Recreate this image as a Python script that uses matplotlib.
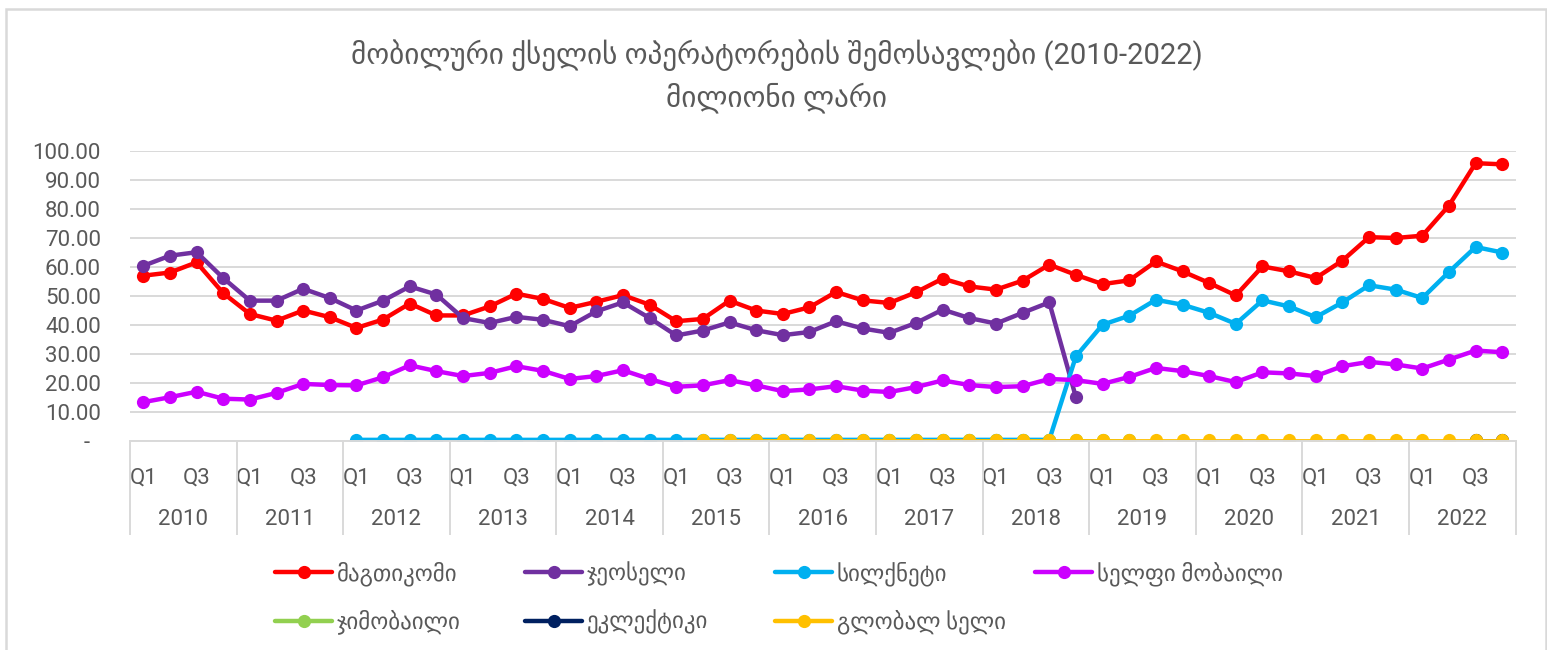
import numpy as np
import matplotlib
matplotlib.use("Agg")
import matplotlib.pyplot as plt
from matplotlib.patches import Rectangle
from matplotlib.transforms import blended_transform_factory

plt.rcParams['font.family'] = ['Roboto', 'DejaVu Sans']

nan = np.nan

years = ['2010', '2011', '2012', '2013', '2014', '2015', '2016',
         '2017', '2018', '2019', '2020', '2021', '2022']
quarters = ['Q1', 'Q2', 'Q3', 'Q4']

# millions of GEL, quarterly, 2010Q1 .. 2022Q4
magti = [57.0, 58.1, 61.6, 51.0, 43.8, 41.5, 45.0, 42.7, 39.0, 41.9, 47.4, 43.3,
         43.3, 46.4, 50.8, 49.0, 45.9, 48.0, 50.3, 47.0, 41.3, 42.1, 48.4, 45.0,
         43.8, 46.1, 51.4, 48.5, 47.6, 51.3, 56.0, 53.3, 52.2, 55.3, 60.8, 57.3,
         54.1, 55.4, 61.9, 58.5, 54.5, 50.2, 60.2, 58.5, 56.2, 62.2, 70.3, 70.0,
         70.8, 81.2, 95.8, 95.4]
geocell = [60.4, 63.9, 65.1, 56.2, 48.4, 48.4, 52.5, 49.3, 45.0, 48.4, 53.3, 50.5,
           42.4, 40.7, 42.8, 41.8, 39.6, 44.7, 47.8, 42.4, 36.4, 38.1, 40.9, 38.2,
           36.5, 37.6, 41.3, 38.8, 37.3, 40.7, 45.3, 42.4, 40.5, 44.2, 47.8, 15.1,
           nan, nan, nan, nan, nan, nan, nan, nan, nan, nan, nan, nan,
           nan, nan, nan, nan]
silknet = [nan, nan, nan, nan, nan, nan, nan, nan, 0.4, 0.4, 0.4, 0.4,
           0.4, 0.4, 0.4, 0.4, 0.4, 0.4, 0.4, 0.4, 0.4, 0.4, 0.4, 0.4,
           0.4, 0.4, 0.4, 0.4, 0.4, 0.4, 0.4, 0.4, 0.4, 0.4, 0.4, 29.2,
           40.1, 43.2, 48.7, 47.0, 44.2, 40.4, 48.5, 46.4, 42.7, 47.8, 53.7, 52.2,
           49.3, 58.3, 66.9, 65.0]
selfie = [13.4, 15.1, 17.0, 14.6, 14.3, 16.6, 19.7, 19.3, 19.2, 22.0, 26.1, 24.1,
          22.4, 23.5, 25.8, 24.2, 21.4, 22.4, 24.4, 21.4, 18.7, 19.2, 21.0, 19.2,
          17.2, 17.8, 18.9, 17.4, 16.9, 18.6, 20.9, 19.3, 18.6, 18.9, 21.4, 21.0,
          19.7, 22.1, 25.2, 24.1, 22.4, 20.3, 23.7, 23.3, 22.4, 25.8, 27.3, 26.4,
          25.0, 28.1, 31.2, 30.6]
jimobile = [nan, nan, nan, nan, nan, nan, nan, nan, nan, nan, nan, nan,
            nan, nan, nan, nan, nan, nan, nan, nan, nan, nan, nan, nan,
            nan, nan, nan, nan, 0.2, 0.2, 0.2, 0.2, 0.2, 0.2, 0.2, 0.2,
            0.2, 0.2, nan, nan, nan, nan, nan, nan, nan, nan, nan, nan,
            nan, nan, nan, nan]
eclectic = [nan] * 50 + [0.2, 0.2]
globalcell = [nan, nan, nan, nan, nan, nan, nan, nan, nan, nan, nan, nan,
              nan, nan, nan, nan, nan, nan, nan, nan, nan, 0.2, 0.2, 0.2,
              0.2, 0.2, 0.2, 0.2, 0.2, 0.2, 0.2, 0.2, 0.2, 0.2, 0.2, 0.2,
              0.2, 0.2, 0.2, 0.2, 0.2, 0.2, 0.2, 0.2, 0.2, 0.2, 0.2, 0.2,
              0.2, 0.2, 0.2, 0.2]

series = [
    ('მაგთიკომი', magti, '#FF0000', 3.2),
    ('ჯეოსელი', geocell, '#7030A0', 3.2),
    ('სილქნეტი', silknet, '#00B0F0', 3.2),
    ('სელფი მობაილი', selfie, '#CC00FF', 3.2),
    ('ჯიმობაილი', jimobile, '#92D050', 1.3),
    ('ეკლექტიკი', eclectic, '#002060', 1.3),
    ('გლობალ სელი', globalcell, '#FFC000', 1.3),
]

grey = '#595959'
light = '#D9D9D9'
fs = 16

fig = plt.figure(figsize=(15.47, 6.5), dpi=100)
ax = fig.add_axes([0.084, 0.3215, 0.8957, 0.4462])

x = np.arange(len(years) * 4)
lines = []
for name, vals, col, lw in series:
    ln, = ax.plot(x, vals, color=col, lw=lw, marker='o', markersize=9.5,
                  markeredgewidth=0, label=name, solid_capstyle='round')
    lines.append(ln)

ax.set_xlim(-0.5, len(x) - 0.5)
ax.set_ylim(0, 100)
yt = np.arange(0, 101, 10)
ax.set_yticks(yt)
ax.set_yticklabels(['-  '] + [f'{v:.2f}' for v in yt[1:]])
ax.tick_params(axis='y', length=0, pad=21, labelsize=fs, labelcolor=grey)
ax.yaxis.grid(True, color=light, lw=1.4)
ax.set_axisbelow(True)

ax.set_xticks(x)
ax.set_xticklabels([q if q in ('Q1', 'Q3') else '' for y in years for q in quarters])
ax.tick_params(axis='x', which='major', length=0, pad=19, labelsize=fs, labelcolor=grey)
ax.set_xticks(np.arange(-0.5, len(x), 4), minor=True)
ax.tick_params(axis='x', which='minor', length=68, width=1.4, color=light)

for s in ['top', 'right', 'left']:
    ax.spines[s].set_visible(False)
ax.spines['bottom'].set_color(light)
ax.spines['bottom'].set_linewidth(1.4)

trans = blended_transform_factory(ax.transData, ax.transAxes)
for i, yr in enumerate(years):
    ax.text(i * 4 + 1.5, -0.272, yr, transform=trans, ha='center', va='center',
            fontsize=fs, color=grey)

fig.text(0.502, 0.915, 'მობილური ქსელის ოპერატორების შემოსავლები (2010-2022)',
         ha='center', va='center', fontsize=21, color=grey)
fig.text(0.502, 0.85, 'მილიონი ლარი', ha='center', va='center', fontsize=21, color=grey)

# legend: Excel-style fixed-width columns, row-major order
cols = [(0.1778, [0, 4]), (0.3394, [1, 5]), (0.501, [2, 6]), (0.669, [3])]
for xpos, idx in cols:
    leg = fig.legend(handles=[lines[i] for i in idx], loc='upper left',
                     bbox_to_anchor=(xpos, 0.137), frameon=False, fontsize=16.5,
                     labelcolor=grey, handlelength=2.5, handletextpad=0.2,
                     labelspacing=1.05, borderpad=0, borderaxespad=0)
    for h in leg.legend_handles:
        h.set_linewidth(3.2)

fig.patches.append(Rectangle((0.0039, -0.02), 0.9955, 1.006, transform=fig.transFigure,
                             fill=False, edgecolor=light, lw=1.8))

fig.savefig('out.png', dpi=100)
